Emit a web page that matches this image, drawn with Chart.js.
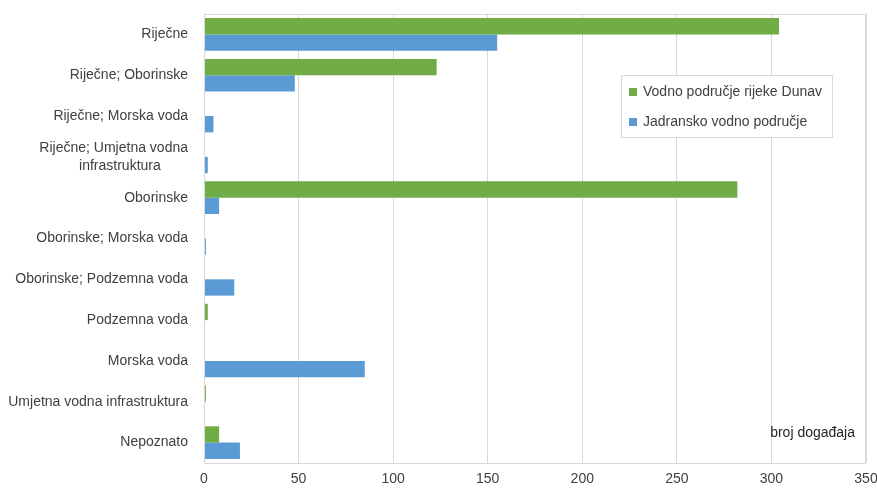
<!DOCTYPE html>
<html>
<head>
<meta charset="utf-8">
<script src="https://cdn.jsdelivr.net/npm/chart.js@4/dist/chart.umd.min.js"></script>
<style>
  html, body { margin: 0; padding: 0; background: #fff; }
  #wrap { width: 877px; height: 490px; }
</style>
</head>
<body>
<div id="wrap"><canvas id="barChart"></canvas></div>
<script>
// Categories (y axis)
var categories = [
    "Riječne",
    "Riječne; Oborinske",
    "Riječne; Morska voda",
    ["Riječne; Umjetna vodna", "infrastruktura\u00a0\u00a0\u00a0\u00a0\u00a0\u00a0\u00a0"],
    "Oborinske",
    "Oborinske; Morska voda",
    "Oborinske; Podzemna voda",
    "Podzemna voda",
    "Morska voda",
    "Umjetna vodna infrastruktura",
    "Nepoznato"
];

// Series values
var dunav = [304, 123, 0, 0, 282, 0, 0, 2, 0, 1, 8];
var jadran = [155, 48, 5, 2, 8, 1, 16, 0, 85, 0, 19];

var seriesNames = ["Vodno područje rijeke Dunav", "Jadransko vodno područje"];
var xTicks = [0, 50, 100, 150, 200, 250, 300, 350];

var textColor = "#404040";
var gridColor = "#d9d9d9";
var fontFamily = "'Liberation Sans', Arial, sans-serif";

// Border around the plot area, legend box inside it and the axis note
var plotDecor = {
    id: "plotDecor",
    afterDraw: function (chart) {
        var ctx = chart.ctx;
        var area = chart.chartArea;
        ctx.save();
        ctx.strokeStyle = gridColor;
        ctx.lineWidth = 1;
        ctx.strokeRect(area.left + 0.5, area.top + 0.5, area.right - area.left - 1, area.bottom - area.top);

        // legend
        ctx.font = "14px " + fontFamily;
        var maxW = 0;
        chart.data.datasets.forEach(function (ds) {
            maxW = Math.max(maxW, ctx.measureText(ds.label).width);
        });
        var boxW = maxW + 32;
        var boxRight = area.right - 34;
        var boxLeft = boxRight - boxW;
        var boxTop = area.top + 61;
        var boxH = 62;
        ctx.fillStyle = "#fff";
        ctx.fillRect(boxLeft, boxTop, boxW, boxH);
        ctx.strokeStyle = "#d9d9d9";
        ctx.strokeRect(Math.round(boxLeft) + 0.5, boxTop + 0.5, Math.round(boxW), boxH);
        chart.data.datasets.forEach(function (ds, i) {
            var cy = boxTop + 17 + i * 30;
            ctx.fillStyle = ds.backgroundColor;
            ctx.fillRect(boxLeft + 8, cy - 4, 8, 8);
            ctx.fillStyle = textColor;
            ctx.textBaseline = "middle";
            ctx.textAlign = "left";
            ctx.fillText(ds.label, boxLeft + 22, cy);
        });

        // axis note
        ctx.fillStyle = "#262626";
        ctx.textAlign = "right";
        ctx.textBaseline = "middle";
        ctx.fillText("broj događaja", area.right - 11, area.bottom - 30);
        ctx.restore();
    }
};

var ctxBar = document.getElementById("barChart").getContext("2d");

var myBarChart = new Chart(ctxBar, {
    type: "bar",
    data: {
        labels: categories,
        datasets: [
            {
                label: seriesNames[0],
                data: dunav,
                backgroundColor: "#70ad47",
                categoryPercentage: 0.8,
                barPercentage: 1.0
            },
            {
                label: seriesNames[1],
                data: jadran,
                backgroundColor: "#5b9bd5",
                categoryPercentage: 0.8,
                barPercentage: 1.0
            }
        ]
    },
    options: {
        indexAxis: "y",
        responsive: true,
        maintainAspectRatio: false,
        animation: false,
        layout: { padding: { top: 14, right: 11, left: 0, bottom: 0 } },
        plugins: {
            legend: { display: false },
            tooltip: { enabled: false }
        },
        scales: {
            x: {
                min: 0,
                max: 350,
                afterBuildTicks: function (scale) {
                    scale.ticks = xTicks.map(function (v) { return { value: v }; });
                },
                grid: { color: gridColor, drawTicks: false },
                border: { display: false },
                ticks: {
                    color: textColor,
                    font: { family: fontFamily, size: 14 },
                    padding: 8,
                    maxRotation: 0
                },
                afterFit: function (scale) {
                    scale.height = 27;
                    scale.paddingLeft = 0;
                    scale.paddingRight = 0;
                }
            },
            y: {
                grid: { display: false, drawTicks: false },
                border: { display: false },
                ticks: {
                    color: textColor,
                    font: { family: fontFamily, size: 14, lineHeight: 1.3 },
                    padding: 16,
                    autoSkip: false
                },
                afterFit: function (scale) {
                    scale.width = 204;
                    scale.paddingTop = 0;
                    scale.paddingBottom = 0;
                }
            }
        }
    },
    plugins: [plotDecor]
});
</script>
</body>
</html>
